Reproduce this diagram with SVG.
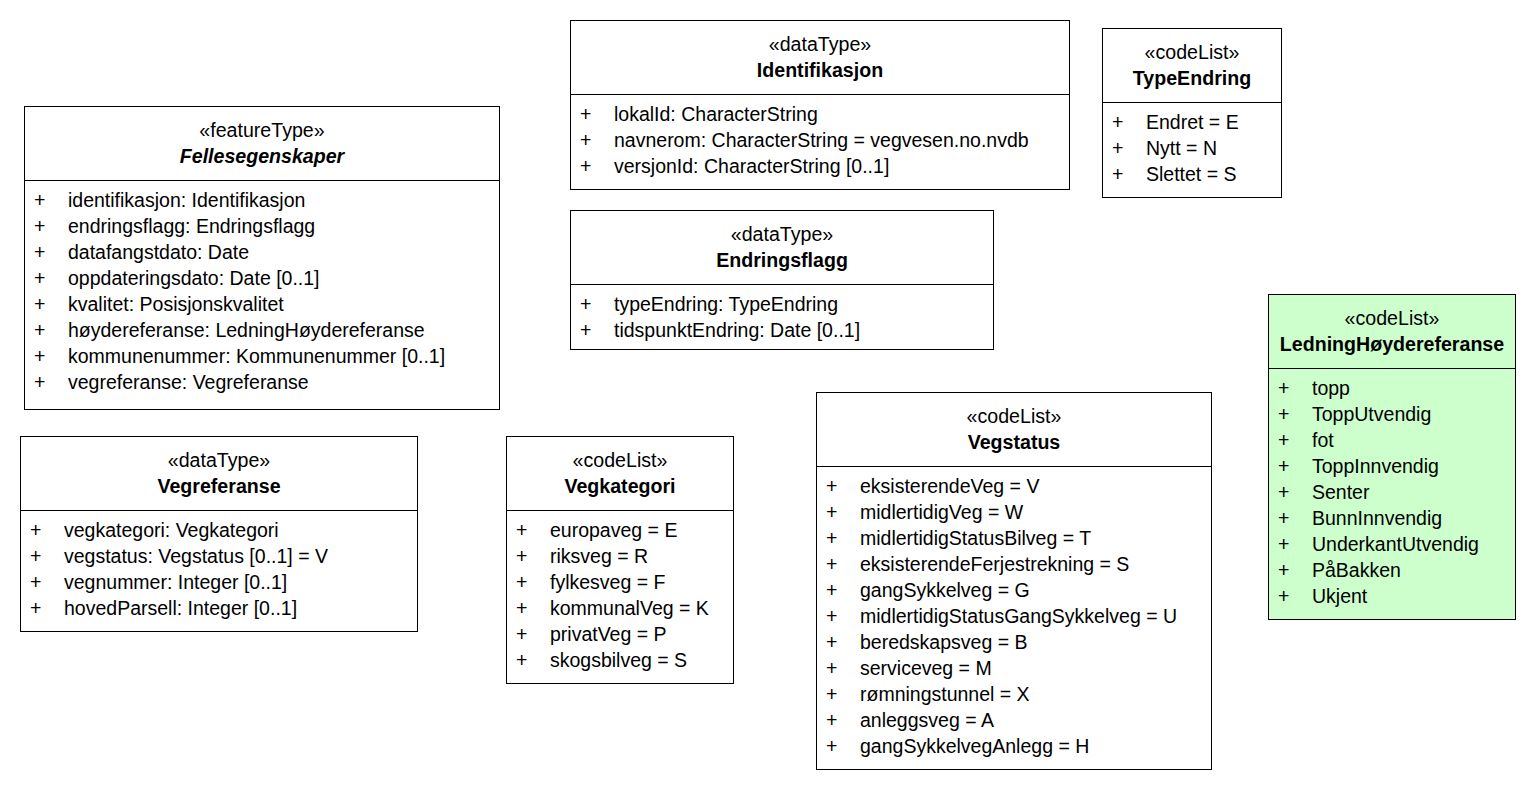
<svg xmlns="http://www.w3.org/2000/svg" width="1536" height="790" viewBox="0 0 1536 790">
<style>
.box{fill:#ffffff;stroke:#000000;stroke-width:1}
.green{fill:#ccffcc}
.sep{stroke:#000000;stroke-width:1}
.st{font-family:"Liberation Sans",Arial,sans-serif;font-size:19.6px;fill:#000;text-anchor:middle}
.nm{font-family:"Liberation Sans",Arial,sans-serif;font-size:19.6px;font-weight:bold;fill:#000;text-anchor:middle}
.it{font-style:italic}
.at{font-family:"Liberation Sans",Arial,sans-serif;font-size:19.5px;fill:#000}
</style>
<rect width="1536" height="790" fill="#ffffff"/>
<g id="connectors"></g>

<g id="Fellesegenskaper">
<rect class="box" x="24.5" y="106.5" width="475" height="303"/>
<line class="sep" x1="24.5" y1="180.5" x2="499.5" y2="180.5"/>
<text class="st" x="262" y="137">«featureType»</text>
<text class="nm it" x="262" y="163">Fellesegenskaper</text>
<g class="at" transform="translate(0,1)">
<text x="34" y="206">+</text><text x="68" y="206">identifikasjon: Identifikasjon</text>
<text x="34" y="232">+</text><text x="68" y="232">endringsflagg: Endringsflagg</text>
<text x="34" y="258">+</text><text x="68" y="258">datafangstdato: Date</text>
<text x="34" y="284">+</text><text x="68" y="284">oppdateringsdato: Date [0..1]</text>
<text x="34" y="310">+</text><text x="68" y="310">kvalitet: Posisjonskvalitet</text>
<text x="34" y="336">+</text><text x="68" y="336">høydereferanse: LedningHøydereferanse</text>
<text x="34" y="362">+</text><text x="68" y="362">kommunenummer: Kommunenummer [0..1]</text>
<text x="34" y="388">+</text><text x="68" y="388">vegreferanse: Vegreferanse</text>
</g>
</g>

<g id="Identifikasjon">
<rect class="box" x="570.5" y="20.5" width="499" height="169"/>
<line class="sep" x1="570.5" y1="94.5" x2="1069.5" y2="94.5"/>
<text class="st" x="820" y="51">«dataType»</text>
<text class="nm" x="820" y="77">Identifikasjon</text>
<g class="at" transform="translate(0,1)">
<text x="580" y="120">+</text><text x="614" y="120">lokalId: CharacterString</text>
<text x="580" y="146">+</text><text x="614" y="146">navnerom: CharacterString = vegvesen.no.nvdb</text>
<text x="580" y="172">+</text><text x="614" y="172">versjonId: CharacterString [0..1]</text>
</g>
</g>

<g id="TypeEndring">
<rect class="box" x="1102.5" y="28.5" width="179" height="169"/>
<line class="sep" x1="1102.5" y1="102.5" x2="1281.5" y2="102.5"/>
<text class="st" x="1192" y="59">«codeList»</text>
<text class="nm" x="1192" y="85">TypeEndring</text>
<g class="at" transform="translate(0,1)">
<text x="1112" y="128">+</text><text x="1146" y="128">Endret = E</text>
<text x="1112" y="154">+</text><text x="1146" y="154">Nytt = N</text>
<text x="1112" y="180">+</text><text x="1146" y="180">Slettet = S</text>
</g>
</g>

<g id="Endringsflagg">
<rect class="box" x="570.5" y="210.5" width="423" height="139"/>
<line class="sep" x1="570.5" y1="284.5" x2="993.5" y2="284.5"/>
<text class="st" x="782" y="241">«dataType»</text>
<text class="nm" x="782" y="267">Endringsflagg</text>
<g class="at" transform="translate(0,1)">
<text x="580" y="310">+</text><text x="614" y="310">typeEndring: TypeEndring</text>
<text x="580" y="336">+</text><text x="614" y="336">tidspunktEndring: Date [0..1]</text>
</g>
</g>

<g id="LedningHoydereferanse">
<rect class="box green" x="1268.5" y="294.5" width="247" height="325"/>
<line class="sep" x1="1268.5" y1="368.5" x2="1515.5" y2="368.5"/>
<text class="st" x="1392" y="325">«codeList»</text>
<text class="nm" x="1392" y="351">LedningHøydereferanse</text>
<g class="at" transform="translate(0,1)">
<text x="1278" y="394">+</text><text x="1312" y="394">topp</text>
<text x="1278" y="420">+</text><text x="1312" y="420">ToppUtvendig</text>
<text x="1278" y="446">+</text><text x="1312" y="446">fot</text>
<text x="1278" y="472">+</text><text x="1312" y="472">ToppInnvendig</text>
<text x="1278" y="498">+</text><text x="1312" y="498">Senter</text>
<text x="1278" y="524">+</text><text x="1312" y="524">BunnInnvendig</text>
<text x="1278" y="550">+</text><text x="1312" y="550">UnderkantUtvendig</text>
<text x="1278" y="576">+</text><text x="1312" y="576">PåBakken</text>
<text x="1278" y="602">+</text><text x="1312" y="602">Ukjent</text>
</g>
</g>

<g id="Vegreferanse">
<rect class="box" x="20.5" y="436.5" width="397" height="195"/>
<line class="sep" x1="20.5" y1="510.5" x2="417.5" y2="510.5"/>
<text class="st" x="219" y="467">«dataType»</text>
<text class="nm" x="219" y="493">Vegreferanse</text>
<g class="at" transform="translate(0,1)">
<text x="30" y="536">+</text><text x="64" y="536">vegkategori: Vegkategori</text>
<text x="30" y="562">+</text><text x="64" y="562">vegstatus: Vegstatus [0..1] = V</text>
<text x="30" y="588">+</text><text x="64" y="588">vegnummer: Integer [0..1]</text>
<text x="30" y="614">+</text><text x="64" y="614">hovedParsell: Integer [0..1]</text>
</g>
</g>

<g id="Vegkategori">
<rect class="box" x="506.5" y="436.5" width="227" height="247"/>
<line class="sep" x1="506.5" y1="510.5" x2="733.5" y2="510.5"/>
<text class="st" x="620" y="467">«codeList»</text>
<text class="nm" x="620" y="493">Vegkategori</text>
<g class="at" transform="translate(0,1)">
<text x="516" y="536">+</text><text x="550" y="536">europaveg = E</text>
<text x="516" y="562">+</text><text x="550" y="562">riksveg = R</text>
<text x="516" y="588">+</text><text x="550" y="588">fylkesveg = F</text>
<text x="516" y="614">+</text><text x="550" y="614">kommunalVeg = K</text>
<text x="516" y="640">+</text><text x="550" y="640">privatVeg = P</text>
<text x="516" y="666">+</text><text x="550" y="666">skogsbilveg = S</text>
</g>
</g>

<g id="Vegstatus">
<rect class="box" x="816.5" y="392.5" width="395" height="377"/>
<line class="sep" x1="816.5" y1="466.5" x2="1211.5" y2="466.5"/>
<text class="st" x="1014" y="423">«codeList»</text>
<text class="nm" x="1014" y="449">Vegstatus</text>
<g class="at" transform="translate(0,1)">
<text x="826" y="492">+</text><text x="860" y="492">eksisterendeVeg = V</text>
<text x="826" y="518">+</text><text x="860" y="518">midlertidigVeg = W</text>
<text x="826" y="544">+</text><text x="860" y="544">midlertidigStatusBilveg = T</text>
<text x="826" y="570">+</text><text x="860" y="570">eksisterendeFerjestrekning = S</text>
<text x="826" y="596">+</text><text x="860" y="596">gangSykkelveg = G</text>
<text x="826" y="622">+</text><text x="860" y="622">midlertidigStatusGangSykkelveg = U</text>
<text x="826" y="648">+</text><text x="860" y="648">beredskapsveg = B</text>
<text x="826" y="674">+</text><text x="860" y="674">serviceveg = M</text>
<text x="826" y="700">+</text><text x="860" y="700">rømningstunnel = X</text>
<text x="826" y="726">+</text><text x="860" y="726">anleggsveg = A</text>
<text x="826" y="752">+</text><text x="860" y="752">gangSykkelvegAnlegg = H</text>
</g>
</g>
</svg>
